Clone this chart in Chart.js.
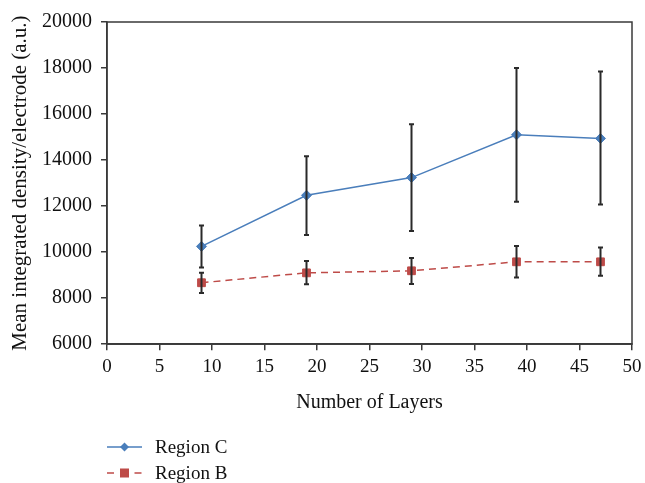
<!DOCTYPE html>
<html>
<head>
<meta charset="utf-8">
<script src="https://cdn.jsdelivr.net/npm/chart.js@4/dist/chart.umd.min.js"></script>
<style>
  html, body { margin: 0; padding: 0; background: #fff; }
  #wrap { position: relative; width: 645px; height: 483px; }
  #legend { position: absolute; left: 107px; top: 434px; font-family: 'Liberation Serif', 'DejaVu Serif', serif; font-size: 19px; color: #111; }
  #legend div { height: 26px; display: flex; align-items: center; }
  #legend svg { margin-right: 13px; }
</style>
</head>
<body>
<div id="wrap">
  <canvas id="chart" width="645" height="483"></canvas>
  <div id="legend">
    <div><svg width="35" height="12"><line x1="0" y1="6" x2="35" y2="6" stroke="#4a7ebb" stroke-width="1.5"/><polygon points="17.5,1.5 22,6 17.5,10.5 13,6" fill="#4a7ebb"/></svg>Region C</div>
    <div><svg width="35" height="12"><line x1="0" y1="6" x2="35" y2="6" stroke="#be4b48" stroke-width="1.5" stroke-dasharray="7,20.5,7"/><rect x="13" y="1.5" width="9" height="9" fill="#be4b48"/></svg>Region B</div>
  </div>
</div>
<script>
const layers = [9, 19, 29, 39, 47];
const regionC = [10250, 12470, 13240, 15100, 14940];
const regionCHigh = [11160, 14170, 15560, 18000, 17850];
const regionCLow = [9330, 10750, 10920, 12190, 12070];
const regionB = [8670, 9100, 9190, 9580, 9580];
const regionBHigh = [9100, 9620, 9750, 10270, 10200];
const regionBLow = [8230, 8610, 8620, 8900, 8970];

const serif = "'Liberation Serif', 'DejaVu Serif', serif";
const axisColor = '#3a3a3a';

const errorBars = {
  id: 'errorBars',
  afterDatasetsDraw(chart) {
    const { ctx, scales: { x, y } } = chart;
    const bars = [[regionCLow, regionCHigh], [regionBLow, regionBHigh]];
    ctx.save();
    ctx.strokeStyle = '#2a2a2a';
    ctx.lineWidth = 2;
    bars.forEach(([low, high]) => {
      layers.forEach((l, i) => {
        const px = x.getPixelForValue(l);
        const top = y.getPixelForValue(high[i]);
        const bot = y.getPixelForValue(low[i]);
        ctx.beginPath();
        ctx.moveTo(px, top); ctx.lineTo(px, bot);
        ctx.moveTo(px - 2.5, top); ctx.lineTo(px + 2.5, top);
        ctx.moveTo(px - 2.5, bot); ctx.lineTo(px + 2.5, bot);
        ctx.stroke();
      });
    });
    ctx.restore();
  },
};

const frame = {
  id: 'frame',
  afterDraw(chart) {
    const { ctx, chartArea: a } = chart;
    ctx.save();
    ctx.strokeStyle = axisColor;
    ctx.lineWidth = 1.5;
    ctx.strokeRect(a.left, a.top, a.right - a.left, a.bottom - a.top);
    ctx.restore();
  },
};

new Chart(document.getElementById('chart'), {
  type: 'line',
  data: {
    datasets: [
      {
        label: 'Region C',
        data: layers.map((l, i) => ({ x: l, y: regionC[i] })),
        borderColor: '#4a7ebb',
        backgroundColor: '#4a7ebb',
        borderWidth: 1.5,
        pointStyle: 'rectRot',
        pointRadius: 5,
        pointBorderWidth: 1,
        tension: 0,
      },
      {
        label: 'Region B',
        data: layers.map((l, i) => ({ x: l, y: regionB[i] })),
        borderColor: '#be4b48',
        backgroundColor: '#be4b48',
        borderWidth: 1.5,
        borderDash: [7, 5],
        pointStyle: 'rect',
        pointRadius: 5.5,
        pointBorderWidth: 1,
        tension: 0,
      },
    ],
  },
  options: {
    responsive: false,
    animation: false,
    layout: { padding: { top: 22, right: 13, bottom: 68, left: 0 } },
    plugins: { legend: { display: false }, tooltip: { enabled: false } },
    scales: {
      x: {
        type: 'linear',
        min: 0,
        max: 50,
        afterFit: (scale) => { scale.paddingRight = 0; },
        ticks: { stepSize: 5, font: { family: serif, size: 19 }, color: '#111', padding: 5 },
        grid: { drawOnChartArea: false, tickLength: 6, color: axisColor, lineWidth: 1.5 },
        border: { color: axisColor, width: 1.5 },
        title: { display: true, text: 'Number of Layers', font: { family: serif, size: 20 }, color: '#111', padding: { top: 8, bottom: 0 } },
      },
      y: {
        min: 6000,
        max: 20000,
        afterFit: (scale) => { scale.width = 107; },
        ticks: { stepSize: 2000, font: { family: serif, size: 20 }, color: '#111', padding: 9, callback: (v) => String(v) },
        grid: { drawOnChartArea: false, tickLength: 6, color: axisColor, lineWidth: 1.5 },
        border: { color: axisColor, width: 1.5 },
        title: { display: true, text: 'Mean integrated density/electrode (a.u.)', font: { family: serif, size: 21 }, color: '#111', padding: { top: 8, bottom: 0 } },
      },
    },
  },
  plugins: [errorBars, frame],
});
</script>
</body>
</html>
